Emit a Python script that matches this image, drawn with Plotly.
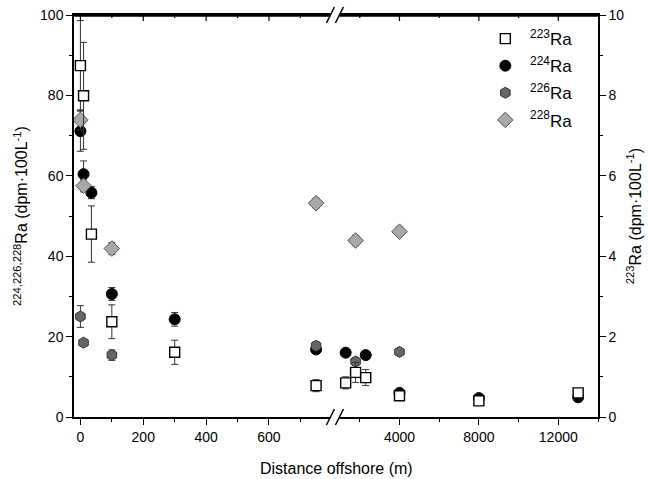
import plotly.graph_objects as go

# ---------------- data ----------------
# 223Ra (right axis, dpm/100L)
ra223_x = [0, 10, 35, 100, 300, 750, 1290, 1790, 2300, 4000, 8000, 13000]
ra223_y = [8.74, 7.99, 4.55, 2.37, 1.61, 0.78, 0.85, 1.11, 0.98, 0.53, 0.40, 0.60]
ra223_e = [1.12, 1.33, 0.70, 0.42, 0.30, 0.15, 0.15, 0.25, 0.20, 0.05, 0.05, 0.05]

# 224Ra (left axis)
ra224_x = [0, 10, 35, 100, 300, 750, 1290, 2300, 4000, 8000, 13000]
ra224_y = [71.1, 60.4, 55.8, 30.6, 24.3, 16.8, 16.0, 15.4, 6.0, 4.7, 4.9]
ra224_e = [5.0, 3.3, 1.5, 1.6, 1.7, 1.0, 0.5, 0.5, 0.5, 0.5, 0.5]

# 226Ra (left axis)
ra226_x = [0, 10, 100, 750, 1790, 4000]
ra226_y = [25.0, 18.5, 15.4, 17.7, 13.8, 16.2]
ra226_e = [2.7, 0.5, 1.3, 1.0, 1.0, 0.5]

# 228Ra (left axis)
ra228_x = [0, 10, 100, 750, 1790, 4000]
ra228_y = [73.9, 57.5, 41.9, 53.2, 43.9, 46.1]
ra228_e = [2.5, 1.5, 1.5, 1.2, 1.3, 1.2]

names = ["<sup>223</sup>Ra", "<sup>224</sup>Ra", "<sup>226</sup>Ra", "<sup>228</sup>Ra"]

left_ticks = [0, 200, 400, 600]
left_minor = [100, 300, 500, 700]
right_ticks = [4000, 8000, 12000]
right_minor = [2000, 6000, 10000]

BREAK = 800          # split between the two x segments
left_range = [-20.4, 810]
right_range = [750, 14000]
split = 0.498

FONT = "Arial, Liberation Sans, sans-serif"
NB = "\u00a0"

styles = [
    dict(symbol="square", size=10, color="white", line=dict(color="black", width=1.4)),
    dict(symbol="circle", size=11, color="black", line=dict(color="black", width=1)),
    dict(symbol="hexagon", size=11, color="#666666", line=dict(color="#333333", width=1)),
    dict(symbol="diamond", size=12, color="#a8a8a8", line=dict(color="#555555", width=1)),
]

series = [
    (ra223_x, ra223_y, ra223_e, "y2"),
    (ra224_x, ra224_y, ra224_e, "y"),
    (ra226_x, ra226_y, ra226_e, "y"),
    (ra228_x, ra228_y, ra228_e, "y"),
]

fig = go.Figure()

for i, (xs, ys, es, yax) in enumerate(series):
    for seg, xax in (("L", "x"), ("R", "x2")):
        idx = [k for k, xv in enumerate(xs) if (xv < BREAK) == (seg == "L")]
        if not idx:
            continue
        fig.add_trace(go.Scatter(
            x=[xs[k] for k in idx], y=[ys[k] for k in idx],
            error_y=dict(type="data", array=[es[k] for k in idx], visible=True,
                         color="#333333", thickness=1, width=3.5),
            mode="markers", marker=styles[i],
            name=NB + names[i], legendgroup=names[i],
            showlegend=(seg == "L"),
            xaxis=xax, yaxis=yax,
        ))

axis_common = dict(showgrid=False, zeroline=False, showline=True, linecolor="black",
                   linewidth=1.5, tickcolor="black", tickwidth=1.2, automargin=False,
                   tickfont=dict(family=FONT, size=14, color="black"))


def minor(vals=None, dtick=None):
    d = dict(ticks="outside", ticklen=3, tickcolor="black", tickwidth=1.2)
    if vals is not None:
        d["tickvals"] = vals
    if dtick is not None:
        d["dtick"] = dtick
    return d


fig.update_layout(
    width=648, height=479,
    margin=dict(l=74, r=50, t=15, b=62, autoexpand=False),
    plot_bgcolor="white", paper_bgcolor="white",
    font=dict(family=FONT, color="black"),
    showlegend=True,
    legend=dict(x=0.785, y=0.985, xanchor="left", yanchor="top",
                font=dict(family=FONT, size=17, color="black"),
                tracegroupgap=2,
                bgcolor="rgba(0,0,0,0)"),
    xaxis=dict(domain=[0, split], range=left_range, anchor="y", mirror=True,
               ticks="outside", ticklen=6, tickvals=left_ticks,
               minor=minor(left_minor), **axis_common),
    xaxis2=dict(domain=[split, 1], range=right_range, anchor="y", mirror=True,
                ticks="outside", ticklen=6, tickvals=right_ticks, tickformat="d",
                minor=minor(right_minor + [14000]), **axis_common),
    yaxis=dict(domain=[0, 1], range=[0, 100], anchor="x",
               ticks="outside", ticklen=6, tick0=0, dtick=20,
               minor=minor(dtick=10),
               title=dict(text="<sup>224,226,228</sup>Ra (dpm·100L<sup>-1</sup>)",
                          font=dict(family=FONT, size=16, color="black"), standoff=8),
               **axis_common),
    yaxis2=dict(overlaying="y", side="right", anchor="x2", range=[0, 10],
                ticks="outside", ticklen=6, tick0=0, dtick=2,
                minor=minor(dtick=1),
                title=dict(text="<sup>223</sup>Ra (dpm·100L<sup>-1</sup>)",
                           font=dict(family=FONT, size=16, color="black"), standoff=6),
                **axis_common),
)

H = 402.0
W = 524.0

# top frame line drawn explicitly (slightly inside the plot area)
fig.add_shape(type="line", xref="paper", yref="paper", x0=0, x1=1,
              y0=1 - 0.75 / H, y1=1 - 0.75 / H,
              line=dict(color="black", width=2), layer="above")

# inward ticks along the top frame, placed through each segment's x scale
for xref, major_vals, minor_vals in (("x", left_ticks, left_minor),
                                     ("x2", right_ticks, right_minor)):
    for vals, ln in ((major_vals, 6), (minor_vals, 3)):
        for v in vals:
            fig.add_shape(type="line", xref=xref, yref="paper",
                          x0=v, x1=v, y0=1, y1=1 - ln / H,
                          line=dict(color="black", width=1.2), layer="above")

# x-axis title centred under the whole plot
fig.add_annotation(text="Distance offshore (m)", xref="paper", yref="paper",
                   x=0.5, y=-51 / 402, xanchor="center", yanchor="middle", showarrow=False,
                   font=dict(family=FONT, size=16, color="black"))

# axis break marks (bottom and top)
bx = split
gap = 4.5 / W
for yb in (0.0, 1.0):
    fig.add_shape(type="rect", xref="paper", yref="paper",
                  x0=bx - gap, x1=bx + gap, y0=yb - 3 / H, y1=yb + 3 / H,
                  fillcolor="white", line=dict(width=0), layer="above")
    for off in (-gap, gap):
        fig.add_shape(type="line", xref="paper", yref="paper",
                      x0=bx + off - 4 / W, y0=yb - 8 / H, x1=bx + off + 4 / W, y1=yb + 8 / H,
                      line=dict(color="black", width=1.5), layer="above")

fig.write_html("out.html", config={"displayModeBar": False})
